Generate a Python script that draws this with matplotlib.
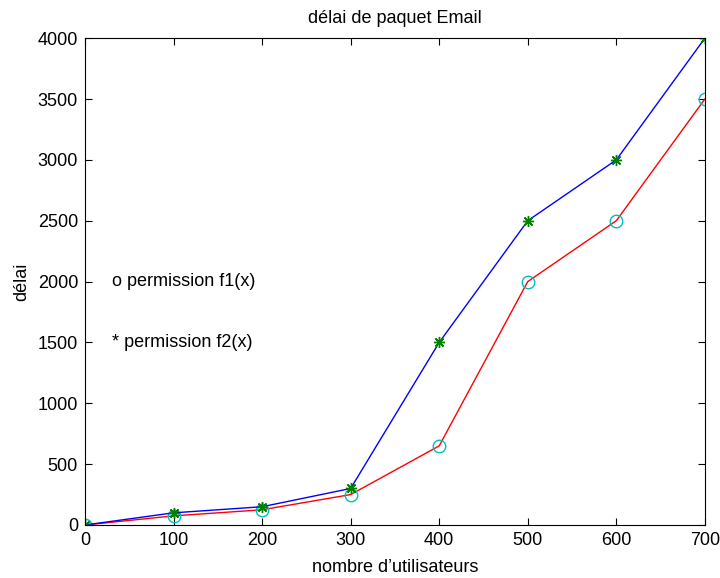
import matplotlib
matplotlib.use('Agg')
from matplotlib import pyplot as plt

# nombre d'utilisateurs et délais
users = [0, 100, 200, 300, 400, 500, 600, 700]
delay_f1 = [0, 75, 125, 250, 650, 2000, 2500, 3500]
delay_f2 = [0, 100, 150, 300, 1500, 2500, 3000, 4000]

x_ticks = [0, 100, 200, 300, 400, 500, 600, 700]
y_ticks = [0, 500, 1000, 1500, 2000, 2500, 3000, 3500, 4000]

plt.rcParams['font.family'] = ['Liberation Sans', 'DejaVu Sans']

fig = plt.figure(figsize=(7.2, 5.78), dpi=100)
ax = fig.add_axes([0.118, 0.0917, 0.861, 0.8423])

ax.plot(users, delay_f1, color='red', lw=1)
ax.plot(users, delay_f1, 'o', ms=9, mfc='none', mec='c', mew=1)
ax.plot(users, delay_f2, color='blue', lw=1)
ax.plot(users, delay_f2, marker=(8, 2, 0), ls='none', ms=8, color='green', mew=1)

ax.text(30, 2000, 'o permission f1(x)', fontsize=13, va='center')
ax.text(30, 1500, '* permission f2(x)', fontsize=13, va='center')

ax.set_xlim(0, 700)
ax.set_ylim(0, 4000)
ax.set_xticks(x_ticks)
ax.set_yticks(y_ticks)
ax.tick_params(direction='in', top=True, right=True, labelsize=13, length=5, pad=5)
ax.set_title('délai de paquet Email', fontsize=13, pad=11)
ax.set_xlabel('nombre d\u2019utilisateurs', fontsize=13, labelpad=7)
ax.set_ylabel('délai', fontsize=13, labelpad=5)

fig.savefig('out.png', dpi=100)
